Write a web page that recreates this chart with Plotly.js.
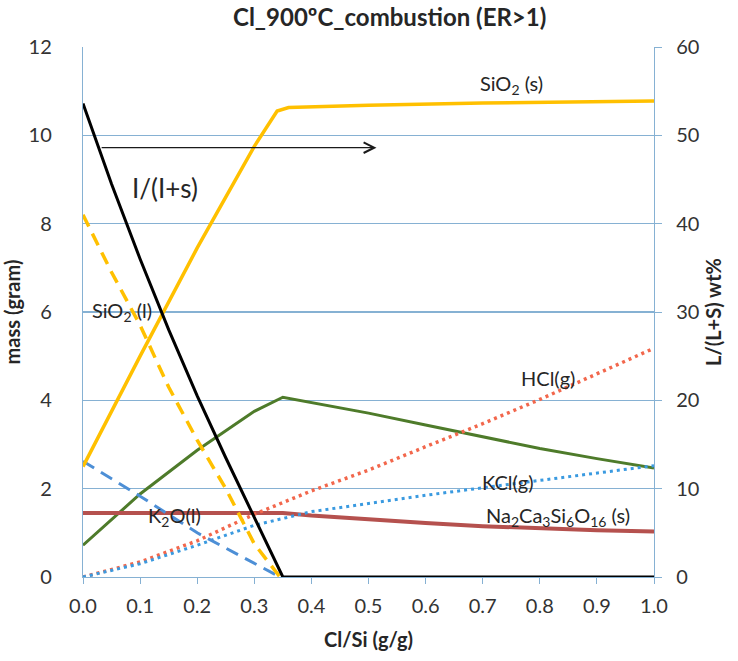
<!DOCTYPE html>
<html>
<head>
<meta charset="utf-8">
<script src="https://cdn.plot.ly/plotly-3.0.1.min.js"></script>
<style>html,body{margin:0;padding:0;background:#fff;}#chart{width:738px;height:661px;}</style>
</head>
<body>
<div id="chart"></div>
<script>
// ---- data (Cl/Si in g/g, mass in gram, liquid fraction in wt%) ----
const sio2sX = [0, 0.1, 0.2, 0.3, 0.34, 0.36, 0.5, 0.7, 1.0];
const sio2sY = [2.5, 5.0, 7.45, 9.75, 10.55, 10.63, 10.68, 10.73, 10.78];

const sio2lX = [0, 0.05, 0.1, 0.15, 0.2, 0.25, 0.3, 0.345];
const sio2lY = [8.2, 6.9, 5.7, 4.3, 3.1, 2.0, 0.75, 0];

const k2olX = [0, 0.1, 0.2, 0.3, 0.345];
const k2olY = [2.62, 1.83, 1.0, 0.3, 0];

const greenX = [0, 0.1, 0.2, 0.3, 0.35, 0.5, 0.6, 0.7, 0.8, 0.9, 1.0];
const greenY = [0.72, 1.88, 2.87, 3.75, 4.07, 3.71, 3.44, 3.17, 2.91, 2.68, 2.47];

const na2X = [0, 0.35, 0.4, 0.5, 0.6, 0.7, 0.8, 0.9, 1.0];
const na2Y = [1.45, 1.45, 1.39, 1.3, 1.22, 1.15, 1.1, 1.06, 1.03];

const gasX = [0, 0.1, 0.2, 0.3, 0.4, 0.5, 0.6, 0.7, 0.8, 0.9, 1.0];
const hclY = [0, 0.34, 0.82, 1.42, 1.95, 2.42, 2.95, 3.47, 4.02, 4.6, 5.18];
const kclY = [0, 0.3, 0.72, 1.17, 1.48, 1.67, 1.85, 2.02, 2.19, 2.36, 2.52];

const liqX = [0, 0.05, 0.1, 0.15, 0.2, 0.25, 0.3, 0.35, 1.0];
const liqY = [53.6, 44.5, 36.0, 28.0, 20.5, 13.5, 6.75, 0, 0];

const xTickVals = [0, 0.1, 0.2, 0.3, 0.4, 0.5, 0.6, 0.7, 0.8, 0.9, 1.0];
const xTickText = ['0.0','0.1','0.2','0.3','0.4','0.5','0.6','0.7','0.8','0.9','1.0'];

// arrow annotation (from, to) in data units
const arrowFrom = [0.03, 9.72];
const arrowTo = [0.514, 9.72];

const FONT = 'Lato, "Open Sans", sans-serif';
const AX = '#86B1D3';
const TXT = '#262626';

const traces = [
  {x: greenX, y: greenY, mode: 'lines', name: 'green', line: {color: '#4E7B2A', width: 3}},
  {x: na2X, y: na2Y, mode: 'lines', name: 'Na2Ca3Si6O16 (s)', line: {color: '#B5514E', width: 4}},
  {x: gasX, y: hclY, mode: 'lines', name: 'HCl(g)', line: {color: '#F2674C', width: 3.5, dash: '3px,4px'}},
  {x: gasX, y: kclY, mode: 'lines', name: 'KCl(g)', line: {color: '#3A9AE0', width: 3, dash: '3px,4px'}},
  {x: k2olX, y: k2olY, mode: 'lines', name: 'K2O(l)', line: {color: '#4D8FD6', width: 3, dash: '13px,8px'}},
  {x: sio2lX, y: sio2lY, mode: 'lines', name: 'SiO2 (l)', line: {color: '#FFC000', width: 3.5, dash: '13px,8px'}},
  {x: sio2sX, y: sio2sY, mode: 'lines', name: 'SiO2 (s)', line: {color: '#FFC000', width: 3.5}},
  {x: liqX, y: liqY, mode: 'lines', name: 'l/(l+s)', yaxis: 'y2', line: {color: '#000000', width: 3}}
];

function lab(text, x, y, size) {
  return {text: text, x: x, y: y, xref: 'x', yref: 'y', showarrow: false,
          font: {family: FONT, size: size || 20, color: TXT}, xanchor: 'center', yanchor: 'middle'};
}

const annotations = [
  lab('SiO<sub>2</sub> (s)', 0.751, 11.15),
  lab('I/(I+s)', 0.144, 8.8, 26),
  lab('SiO<sub>2</sub> (l)', 0.068, 6.02),
  lab('HCl(g)', 0.815, 4.5),
  lab('KCl(g)', 0.745, 2.15),
  lab('K<sub>2</sub>O(l)', 0.161, 1.38),
  lab('Na<sub>2</sub>Ca<sub>3</sub>Si<sub>6</sub>O<sub>16</sub> (s)', 0.832, 1.38),
  {x: arrowTo[0], y: arrowTo[1], ax: arrowFrom[0], ay: arrowFrom[1], xref: 'x', yref: 'y', axref: 'x', ayref: 'y',
   text: '', showarrow: true, arrowhead: 5, arrowsize: 1.6, arrowwidth: 1.3, arrowcolor: '#1a1a1a', standoff: 0, startstandoff: 0}
];

const layout = {
  width: 738, height: 661,
  margin: {l: 83, r: 84, t: 47, b: 84},
  paper_bgcolor: '#ffffff', plot_bgcolor: '#ffffff',
  showlegend: false,
  font: {family: FONT, color: TXT},
  title: {text: '<b>Cl_900ºC_combustion (ER>1)</b>', font: {family: FONT, size: 24, color: TXT},
          x: 0.528, xanchor: 'center', y: 0.973, yanchor: 'middle'},
  xaxis: {range: [0, 1], tickvals: xTickVals, ticktext: xTickText, showline: true, linecolor: AX, linewidth: 1.2,
          ticks: 'outside', ticklen: 6, tickcolor: AX, showgrid: false, zeroline: false, ticklabelstandoff: 5,
          tickfont: {family: FONT, size: 20, color: '#333'},
          title: {text: '<b>Cl/Si (g/g)</b>', font: {family: FONT, size: 20, color: TXT}, standoff: 16}},
  yaxis: {range: [0, 12], dtick: 2, showline: true, linecolor: AX, linewidth: 1.2, ticks: '',
          gridcolor: AX, gridwidth: 1.2, zeroline: false, ticklabelstandoff: 26,
          tickfont: {family: FONT, size: 20, color: '#333'},
          title: {text: '<b>mass (gram)</b>', font: {family: FONT, size: 20, color: TXT}, standoff: 2}},
  yaxis2: {range: [0, 60], dtick: 10, overlaying: 'y', side: 'right', showline: true, linecolor: AX, linewidth: 1.2,
           ticks: 'outside', ticklen: 7, tickcolor: AX, showgrid: false, zeroline: false, ticklabelstandoff: 10,
           tickfont: {family: FONT, size: 20, color: '#333'},
           title: {text: '<b>L/(L+S) wt%</b>', font: {family: FONT, size: 20, color: TXT}, standoff: 8}},
  annotations: annotations
};

Plotly.newPlot('chart', traces, layout, {displayModeBar: false, staticPlot: true});
</script>
</body>
</html>
